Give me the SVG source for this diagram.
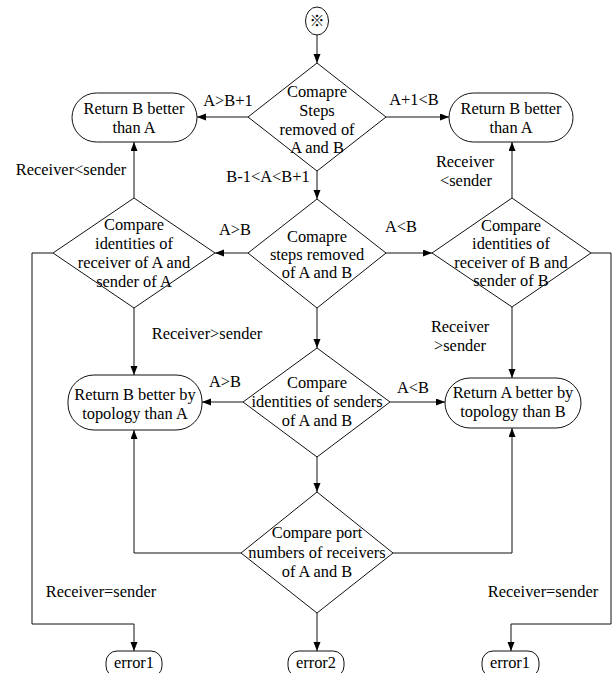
<svg xmlns="http://www.w3.org/2000/svg" width="616" height="673" viewBox="0 0 616 673">
<defs>
<style>
.shape{fill:#fff;stroke:#111;stroke-width:1}
.ln{fill:none;stroke:#111;stroke-width:1}
.t{font-family:"Liberation Serif","Times New Roman",serif;font-size:16.4px;fill:#000;text-anchor:middle}
.mark{font-family:"Noto Sans CJK SC","DejaVu Sans",sans-serif;font-size:15px;fill:#000;text-anchor:middle}
</style>
<marker id="ah" markerUnits="userSpaceOnUse" markerWidth="10" markerHeight="8" refX="9" refY="3.5" orient="auto">
<path d="M0,0 L9,3.5 L0,7 z" fill="#000"/>
</marker>
</defs>
<rect width="616" height="673" fill="#fff"/>

<g id="connectors">
<line class="ln" x1="317" y1="35" x2="317" y2="63" marker-end="url(#ah)"/>
<line class="ln" x1="248" y1="117" x2="197" y2="117" marker-end="url(#ah)"/>
<line class="ln" x1="386" y1="117" x2="449" y2="117" marker-end="url(#ah)"/>
<line class="ln" x1="317" y1="171" x2="317" y2="199" marker-end="url(#ah)"/>
<line class="ln" x1="134" y1="198" x2="134" y2="142" marker-end="url(#ah)"/>
<line class="ln" x1="512" y1="198" x2="512" y2="142" marker-end="url(#ah)"/>
<line class="ln" x1="248" y1="253" x2="215" y2="253" marker-end="url(#ah)"/>
<line class="ln" x1="386" y1="253" x2="432" y2="253" marker-end="url(#ah)"/>
<line class="ln" x1="134" y1="308" x2="134" y2="375" marker-end="url(#ah)"/>
<line class="ln" x1="512" y1="307" x2="512" y2="378" marker-end="url(#ah)"/>
<line class="ln" x1="317" y1="308" x2="317" y2="348" marker-end="url(#ah)"/>
<line class="ln" x1="243" y1="402" x2="202" y2="402" marker-end="url(#ah)"/>
<line class="ln" x1="390" y1="402" x2="445" y2="402" marker-end="url(#ah)"/>
<line class="ln" x1="317" y1="457" x2="317" y2="492" marker-end="url(#ah)"/>
<polyline class="ln" points="241,553 134,553 134,430" marker-end="url(#ah)"/>
<polyline class="ln" points="393,553 512,553 512,428" marker-end="url(#ah)"/>
<line class="ln" x1="317" y1="613" x2="317" y2="651" marker-end="url(#ah)"/>
<polyline class="ln" points="53,253 32,253 32,624 134,624 134,651" marker-end="url(#ah)"/>
<polyline class="ln" points="591,253 611,253 611,624 511,624 511,651" marker-end="url(#ah)"/>
</g>

<g id="labels">
<text class="t" x="228" y="106">A&gt;B+1</text>
<text class="t" x="414" y="105">A+1&lt;B</text>
<text class="t" x="71" y="175">Receiver&lt;sender</text>
<text class="t" x="268" y="182">B-1&lt;A&lt;B+1</text>
<text class="t" x="465" y="167">Receiver</text>
<text class="t" x="466" y="186">&lt;sender</text>
<text class="t" x="235" y="235">A&gt;B</text>
<text class="t" x="401" y="232">A&lt;B</text>
<text class="t" x="207" y="339">Receiver&gt;sender</text>
<text class="t" x="460" y="332">Receiver</text>
<text class="t" x="460" y="351">&gt;sender</text>
<text class="t" x="225" y="387">A&gt;B</text>
<text class="t" x="413" y="393">A&lt;B</text>
<text class="t" x="101" y="597">Receiver=sender</text>
<text class="t" x="543" y="597">Receiver=sender</text>
</g>

<g id="start">
<ellipse class="shape" cx="317" cy="21" rx="11.5" ry="14"/>
<text class="mark" x="317" y="26">※</text>
</g>

<g id="d1">
<polygon class="shape" points="317,63 386,117 317,171 248,117"/>
<text class="t"><tspan x="317" y="97">Comapre</tspan><tspan x="317" y="115.5">Steps</tspan><tspan x="317" y="134.5">removed of</tspan><tspan x="317" y="153">A and B</tspan></text>
</g>

<g id="r1l">
<rect class="shape" x="72" y="93" width="125" height="49" rx="24.5"/>
<text class="t"><tspan x="134" y="114">Return B better</tspan><tspan x="134" y="133">than A</tspan></text>
</g>

<g id="r1r">
<rect class="shape" x="449" y="93" width="124" height="49" rx="24.5"/>
<text class="t"><tspan x="511" y="114">Return B better</tspan><tspan x="511" y="133">than A</tspan></text>
</g>

<g id="dl">
<polygon class="shape" points="134,198 215,253 134,308 53,253"/>
<text class="t"><tspan x="134" y="230">Compare</tspan><tspan x="134" y="249">identities of</tspan><tspan x="134" y="268">receiver of A and</tspan><tspan x="134" y="287">sender of A</tspan></text>
</g>

<g id="d2">
<polygon class="shape" points="317,199 386,253 317,308 248,253"/>
<text class="t"><tspan x="317" y="242">Comapre</tspan><tspan x="317" y="260">steps removed</tspan><tspan x="317" y="278">of A and B</tspan></text>
</g>

<g id="dr">
<polygon class="shape" points="512,198 591,253 512,307 432,253"/>
<text class="t"><tspan x="511" y="231">Compare</tspan><tspan x="511" y="249">identities of</tspan><tspan x="511" y="267.5">receiver of B and</tspan><tspan x="511" y="286">sender of B</tspan></text>
</g>

<g id="r2l">
<rect class="shape" x="68" y="375" width="134" height="55" rx="26"/>
<text class="t"><tspan x="135" y="400">Return B better by</tspan><tspan x="135" y="418.5">topology than A</tspan></text>
</g>

<g id="d3">
<polygon class="shape" points="317,348 390,402 317,457 243,402"/>
<text class="t"><tspan x="317" y="388">Compare</tspan><tspan x="317" y="407">identities of senders</tspan><tspan x="317" y="425.5">of A and B</tspan></text>
</g>

<g id="r2r">
<rect class="shape" x="445" y="378" width="136" height="50" rx="25"/>
<text class="t"><tspan x="513" y="398">Return A better by</tspan><tspan x="513" y="416.5">topology than B</tspan></text>
</g>

<g id="d4">
<polygon class="shape" points="317,492 393,553 317,613 241,553"/>
<text class="t"><tspan x="317" y="538">Compare port</tspan><tspan x="317" y="557.5">numbers of receivers</tspan><tspan x="317" y="576.5">of A and B</tspan></text>
</g>

<g id="e1l">
<rect class="shape" x="106" y="651" width="56" height="26" rx="11"/>
<text class="t" x="134" y="668">error1</text>
</g>

<g id="e2">
<rect class="shape" x="288" y="651" width="56" height="26" rx="11"/>
<text class="t" x="316" y="668">error2</text>
</g>

<g id="e1r">
<rect class="shape" x="482" y="651" width="57" height="26" rx="11"/>
<text class="t" x="510" y="668">error1</text>
</g>
</svg>
